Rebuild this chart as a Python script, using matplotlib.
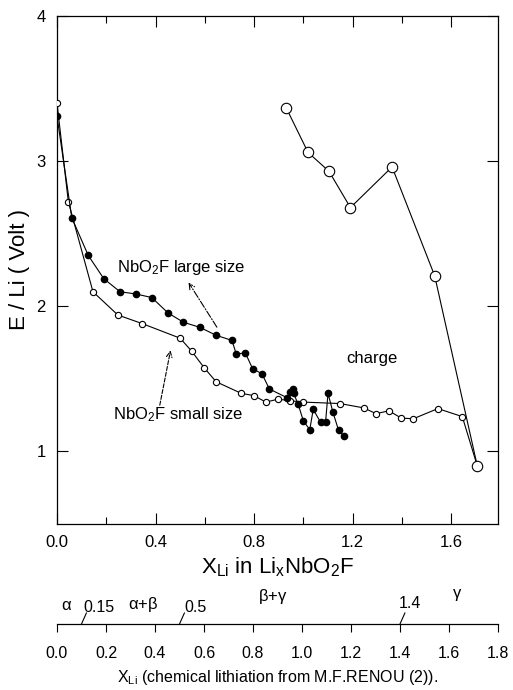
import numpy as np
import matplotlib.pyplot as plt
from matplotlib.ticker import MultipleLocator

plt.rcParams['font.family'] = ['Liberation Sans', 'DejaVu Sans']
plt.rcParams['mathtext.fontset'] = 'custom'
plt.rcParams['mathtext.rm'] = 'Liberation Sans'
plt.rcParams['mathtext.it'] = 'Liberation Sans'

# NbO2F large size (discharge, filled)
large_x = [0.0, 0.06, 0.127, 0.19, 0.256, 0.32, 0.385, 0.45, 0.513, 0.58, 0.646, 0.71,
           0.728, 0.764, 0.794, 0.832, 0.862, 0.934, 0.947, 0.956, 0.96, 0.978, 1.0,
           1.026, 1.04, 1.07, 1.09, 1.10, 1.12, 1.143, 1.164]
large_y = [3.31, 2.61, 2.35, 2.19, 2.10, 2.085, 2.06, 1.955, 1.89, 1.855, 1.80, 1.765,
           1.67, 1.68, 1.57, 1.535, 1.43, 1.37, 1.41, 1.43, 1.40, 1.33, 1.21,
           1.15, 1.29, 1.20, 1.20, 1.40, 1.27, 1.145, 1.105]

# NbO2F small size (discharge, open)
small_x = [0.0, 0.046, 0.146, 0.247, 0.347, 0.50, 0.547, 0.598, 0.646, 0.748, 0.798,
           0.848, 0.897, 0.944, 0.997, 1.148, 1.245, 1.295, 1.347, 1.397, 1.446,
           1.546, 1.645, 1.706]
small_y = [3.40, 2.72, 2.10, 1.94, 1.88, 1.78, 1.69, 1.575, 1.48, 1.40, 1.385,
           1.34, 1.36, 1.35, 1.34, 1.33, 1.30, 1.26, 1.28, 1.23, 1.225,
           1.295, 1.24, 0.90]

# charge
charge_x = [0.931, 1.019, 1.104, 1.191, 1.36, 1.533, 1.706]
charge_y = [3.365, 3.06, 2.93, 2.68, 2.96, 2.21, 0.90]

# chemical lithiation scale
chem_ticks = [0.0, 0.2, 0.4, 0.6, 0.8, 1.0, 1.2, 1.4, 1.6, 1.8]
chem_marks = [0.1, 0.5, 1.4]

fig = plt.figure(figsize=(5.13, 6.90), dpi=100)
ax = fig.add_axes([57/513, 1 - 524/690, 441/513, 508/690])

ax.plot(small_x, small_y, '-o', color='black', mfc='white', mec='black',
        ms=4.5, lw=0.8, mew=0.8, zorder=3)
ax.plot(large_x, large_y, '-o', color='black', mfc='black', mec='black',
        ms=4.5, lw=0.8, zorder=4)
ax.plot(charge_x, charge_y, '-o', color='black', mfc='white', mec='black',
        ms=7.5, lw=0.8, mew=0.8, zorder=3)

ax.set_xlim(0, 1.79)
ax.set_ylim(0.5, 4.0)
ax.xaxis.set_minor_locator(MultipleLocator(0.2))
ax.set_xticks([0.0, 0.4, 0.8, 1.2, 1.6])
ax.set_xticklabels(['0.0', '0.4', '0.8', '1.2', '1.6'])
ax.set_yticks([1, 2, 3, 4])
ax.set_yticklabels(['1', '2', '3', '4'])
ax.tick_params(which='major', direction='in', length=8, width=0.8, top=True, right=True,
               labelsize=12, pad=8)
ax.tick_params(which='minor', direction='in', length=5, width=0.8, top=True, right=True)
for s in ax.spines.values():
    s.set_linewidth(0.9)

ax.set_xlabel(r'$\mathregular{X_{Li}}$ in $\mathregular{Li_xNbO_2F}$', fontsize=16, labelpad=4)
ax.set_ylabel('E / Li ( Volt )', fontsize=16, labelpad=5)

ax.annotate('', xy=(0.528, 2.18), xytext=(0.655, 1.84),
            arrowprops=dict(arrowstyle='->', lw=0.8, linestyle='-.', color='black'))
ax.annotate('', xy=(0.463, 1.715), xytext=(0.415, 1.30),
            arrowprops=dict(arrowstyle='->', lw=0.8, linestyle='--', color='black'))
ax.text(0.244, 2.27, r'NbO$\mathregular{_2}$F large size', fontsize=12, va='center', ha='left')
ax.text(0.228, 1.255, r'NbO$\mathregular{_2}$F small size', fontsize=12, va='center', ha='left')
ax.text(1.28, 1.64, 'charge', fontsize=12, va='center', ha='center')

# secondary scale
ax2 = fig.add_axes([57/513, 1 - 624/690, 441/513, 40/690])
ax2.set_xlim(0, 1.79)
ax2.set_ylim(0, 40)
for k in ['left', 'right', 'top']:
    ax2.spines[k].set_visible(False)
ax2.spines['bottom'].set_linewidth(0.9)
ax2.patch.set_visible(False)
ax2.set_yticks([])
ax2.set_xticks(chem_ticks)
ax2.set_xticklabels(['%.1f' % v for v in chem_ticks])
ax2.tick_params(axis='x', direction='out', length=6, width=0.8, labelsize=11.5, pad=10)
ax2.set_xlabel(r'$\mathregular{X_{Li}}$ (chemical lithiation from M.F.RENOU (2)).',
               fontsize=11.5, labelpad=5)

for m in chem_marks:
    ax2.plot([m, m + 0.02], [0, 11], color='black', lw=0.8, clip_on=False)
ax2.text(0.04, 19, r'$\alpha$', fontsize=12, ha='center', va='center')
ax2.text(0.17, 17, '0.15', fontsize=11.5, ha='center', va='center')
ax2.text(0.35, 20, r'$\alpha$+$\beta$', fontsize=12, ha='center', va='center')
ax2.text(0.565, 17, '0.5', fontsize=11.5, ha='center', va='center')
ax2.text(0.88, 28, r'$\beta$+$\gamma$', fontsize=12, ha='center', va='center')
ax2.text(1.44, 20, '1.4', fontsize=11.5, ha='center', va='center')
ax2.text(1.635, 29, r'$\gamma$', fontsize=12, ha='center', va='center')

fig.savefig('out.png', dpi=100)
